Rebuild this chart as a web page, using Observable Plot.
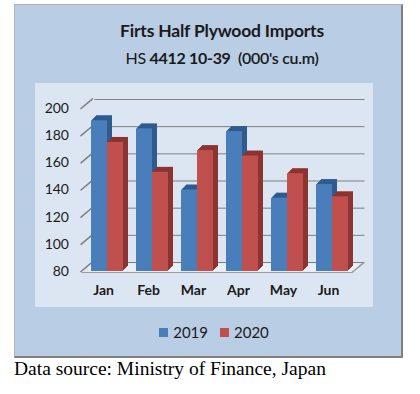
<!DOCTYPE html>
<html><head><meta charset="utf-8">
<script src="https://cdn.jsdelivr.net/npm/d3@7"></script>
<script src="https://cdn.jsdelivr.net/npm/@observablehq/plot@0.6"></script>
<style>
body{margin:0;background:#fff;width:420px;height:394px;position:relative;overflow:hidden;font-family:Lato,"Open Sans",sans-serif}
#panel{position:absolute;left:14px;top:4px;width:386px;height:351px;background:#b9cde5;border:1px solid #b4b4b4;border-right:2px solid #7f7f7f;border-bottom:2px solid #7f7f7f}
#title{position:absolute;left:14px;width:386px;top:17px;line-height:18px;text-align:center;font-weight:700;font-size:17.5px;color:#1a1a1a;letter-spacing:-0.2px}
#subtitle{position:absolute;left:14px;width:386px;top:45px;line-height:16px;text-align:center;font-size:16px;color:#1a1a1a;font-weight:600;letter-spacing:-0.3px}
#subtitle b{font-weight:700}
#subtitle .n{font-weight:400}
#inner{position:absolute;left:20px;top:78px;width:338px;height:224px;background:#dce6f2}
#legend{position:absolute;left:6px;width:386px;top:318px;display:flex;justify-content:center;align-items:center;font-size:15px;color:#1a1a1a;line-height:18px}
#legend .sw{display:inline-block;width:9px;height:9px;margin-right:5px}
#legend .item{display:flex;align-items:center;margin:0 6px}
#caption{position:absolute;left:14px;top:359px;line-height:20px;font-family:"Liberation Serif","Times New Roman",serif;font-size:19.5px;color:#000;white-space:nowrap}
</style>
</head><body>
<div id="panel">
  <div id="title">Firts Half Plywood Imports</div>
  <div id="subtitle"><span class="n">HS</span> <b>4412 10-39</b>&nbsp; (000's cu.m)</div>
  <div id="inner"></div>
  <div id="legend"></div>
</div>
<div id="caption">Data source: Ministry of Finance, Japan</div>
<script>
const months = ["Jan","Feb","Mar","Apr","May","Jun"];
const v2019 = [191,185,140,183,134,144];
const v2020 = [175,153,169,165,152,135];
const yTicks = [80,100,120,140,160,180,200];
const seriesNames = ["2019","2020"];
const frontColors = ["#4a7ebb","#c0504d"];
const sideColors = ["#2f5b8f","#8c3431"];

const seriesValues = [v2019, v2020];
const seriesData = seriesValues.map(vals => months.map((m,i)=>({month:m, value:vals[i]})));

const lineShape = {draw(context, l){ context.moveTo(0,0); context.lineTo(0,-l); }};
const depth = [5,4,3,2,1];

const marks = [
  Plot.ruleY([80], {dx:4, dy:-4, stroke:"#eaf0f7", strokeWidth:8}),
  Plot.ruleY(yTicks, {stroke:"#7f7f7f", dx:10, dy:-9}),
  Plot.vector(yTicks, {y:d=>d, frameAnchor:"left", dx:-4, length:15, rotate:50, anchor:"start", shape:lineShape, stroke:"#7f7f7f"}),
  Plot.ruleY([80], {dx:-3, dy:1, stroke:"#9a9a9a", strokeWidth:1.2}),
  Plot.vector([80], {y:d=>d, frameAnchor:"right", dx:-3, dy:1, length:15, rotate:50, anchor:"start", shape:lineShape, stroke:"#9a9a9a"})
];
seriesData.forEach((data, s) => {
  const inset = s === 0 ? {insetRight:16} : {insetLeft:16};
  depth.forEach(d => {
    marks.push(Plot.barY(data, {x:"month", y1:80, y2:"value", fill:sideColors[s], dx:d, dy:-d, ...inset}));
  });
  marks.push(Plot.barY(data, {x:"month", y1:80, y2:"value", fill:frontColors[s], ...inset}));
});
marks.push(Plot.axisY({ticks:yTicks, tickSize:0, tickPadding:16, fontSize:14}));
marks.push(Plot.axisX({tickSize:0, tickPadding:14, fontSize:14, fontWeight:"bold", dx:-4}));

const chart = Plot.plot({
  width:338, height:224,
  marginTop:25, marginBottom:36, marginLeft:49.5, marginRight:18.5,
  x:{type:"band", domain:months, paddingInner:0.289, paddingOuter:0.144, label:null},
  y:{domain:[80,200], label:null},
  style:{background:"transparent", fontFamily:"Lato, sans-serif", color:"#1a1a1a", overflow:"visible"},
  marks
});
document.getElementById("inner").appendChild(chart);

const legend = document.getElementById("legend");
seriesNames.forEach((n,i) => {
  const item = document.createElement("span");
  item.className = "item";
  item.innerHTML = `<span class="sw" style="background:${frontColors[i]}"></span>${n}`;
  legend.appendChild(item);
});
</script>
</body></html>
